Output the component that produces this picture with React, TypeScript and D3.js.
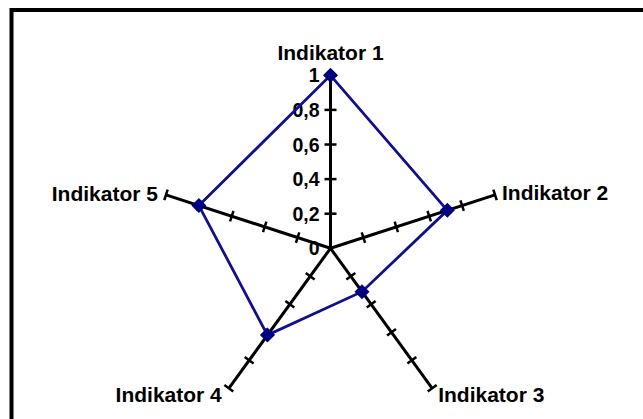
import React, { useEffect, useRef } from "react";
import * as d3 from "d3";

const indicators = ["Indikator 1", "Indikator 2", "Indikator 3", "Indikator 4", "Indikator 5"];
const values = [1, 0.71, 0.31, 0.62, 0.8];
const tickValues = [0, 0.2, 0.4, 0.6, 0.8, 1];
const tickLabels = ["0", "0,2", "0,4", "0,6", "0,8", "1"];

const App = () => {
  const svgRef = useRef<SVGSVGElement>(null);
  const width = 643;
  const height = 419;
  const cx = 330.5;
  const cy = 248.3;
  const radius = 173;

  useEffect(() => {
    const svgEl = d3.select(svgRef.current);
    svgEl.selectAll("*").remove();

    const r = d3.scaleLinear().domain([0, 1]).range([0, radius]);
    const angle = (i: number) => (i * 2 * Math.PI) / indicators.length;
    const px = (i: number, v: number) => cx + Math.sin(angle(i)) * r(v);
    const py = (i: number, v: number) => cy - Math.cos(angle(i)) * r(v);

    // frame
    svgEl
      .append("rect")
      .attr("x", 11.5)
      .attr("y", 10)
      .attr("width", 700)
      .attr("height", 500)
      .attr("fill", "white")
      .attr("stroke", "black")
      .attr("stroke-width", 4);

    const axes = svgEl.append("g").attr("class", "axes");
    indicators.forEach((_, i) => {
      axes
        .append("line")
        .attr("x1", cx)
        .attr("y1", cy)
        .attr("x2", px(i, 1))
        .attr("y2", py(i, 1))
        .attr("stroke", "black")
        .attr("stroke-width", 3);

      const a = angle(i);
      const tx = Math.cos(a);
      const ty = Math.sin(a);
      const len = i === 0 ? 6 : 5.5;
      axes
        .selectAll(`line.tick${i}`)
        .data(tickValues.slice(1))
        .join("line")
        .attr("class", `tick${i}`)
        .attr("x1", (d) => px(i, d) - tx * len)
        .attr("y1", (d) => py(i, d) - ty * len)
        .attr("x2", (d) => px(i, d) + tx * len)
        .attr("y2", (d) => py(i, d) + ty * len)
        .attr("stroke", "black")
        .attr("stroke-width", 2.5);
    });

    // value labels on first axis
    svgEl
      .append("g")
      .attr("font-family", "Liberation Sans, Arial, sans-serif")
      .attr("font-weight", "bold")
      .attr("font-size", 19.5)
      .attr("text-anchor", "end")
      .selectAll("text")
      .data(tickValues)
      .join("text")
      .attr("x", cx - 11)
      .attr("y", (d) => py(0, d))
      .attr("dy", "0.36em")
      .text((d, k) => tickLabels[k]);

    // series
    const line = d3
      .lineRadial<number>()
      .angle((d, i) => angle(i))
      .radius((d) => r(d))
      .curve(d3.curveLinearClosed);

    svgEl
      .append("path")
      .attr("transform", `translate(${cx},${cy})`)
      .attr("d", line(values))
      .attr("fill", "none")
      .attr("stroke", "#10108a")
      .attr("stroke-width", 2.8);

    svgEl
      .append("g")
      .selectAll("path")
      .data(values)
      .join("path")
      .attr("transform", (d, i) => `translate(${px(i, d)},${py(i, d)})`)
      .attr("d", "M0,-7.5L7.5,0L0,7.5L-7.5,0Z")
      .attr("fill", "#000080");

    // indicator labels
    const labelPos = [
      { dx: 0, dy: -23, anchor: "middle" },
      { dx: 7, dy: -2, anchor: "start" },
      { dx: 6, dy: 6, anchor: "start" },
      { dx: -7, dy: 6, anchor: "end" },
      { dx: -8, dy: -1, anchor: "end" },
    ];
    svgEl
      .append("g")
      .attr("font-family", "Liberation Sans, Arial, sans-serif")
      .attr("font-weight", "bold")
      .attr("font-size", 21)
      .selectAll("text")
      .data(indicators)
      .join("text")
      .attr("x", (d, i) => px(i, 1) + labelPos[i].dx)
      .attr("y", (d, i) => py(i, 1) + labelPos[i].dy)
      .attr("dy", "0.36em")
      .attr("text-anchor", (d, i) => labelPos[i].anchor)
      .text((d) => d);
  }, []);

  return (
    <svg
      ref={svgRef}
      width={width}
      height={height}
      style={{ position: "absolute", left: 0, top: 0, background: "white" }}
    />
  );
};

export default App;
